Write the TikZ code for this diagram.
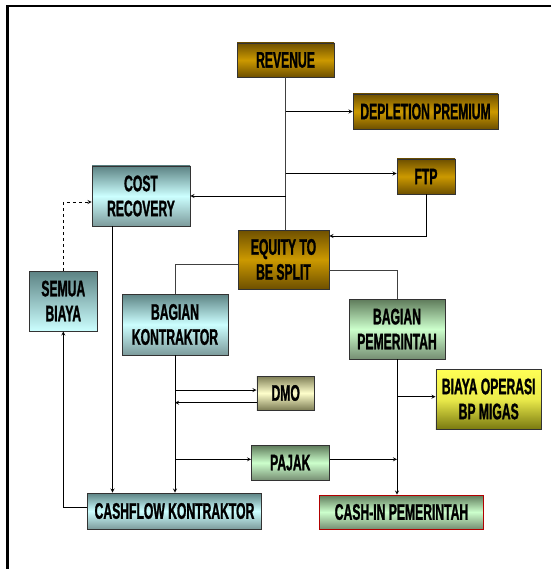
\documentclass[tikz,border=0pt]{standalone}
\usepackage{fontspec}
\usepackage{xcolor}
\usepackage{tikz}
\usetikzlibrary{arrows}
\newfontfamily\boxfont{Liberation Sans}[FakeStretch=0.54, BoldFeatures={FakeBold=1.2}]
\definecolor{golddark}{HTML}{6E5000}
\definecolor{goldmid}{HTML}{CC9900}
\definecolor{cyandark}{HTML}{5C8283}
\definecolor{cyanlight}{HTML}{CCFFFF}
\definecolor{greendark}{HTML}{5E7A5A}
\definecolor{greenlight}{HTML}{CCFFCC}
\definecolor{khakidark}{HTML}{7D7D55}
\definecolor{khakilight}{HTML}{FFFFCC}
\definecolor{yellowtop}{HTML}{FFFF55}
\definecolor{yellowbot}{HTML}{7A7A10}
\tikzstyle{box} = [rectangle, draw=black!80, line width=0.9pt, inner sep=0pt, align=center, text=black, font=\boxfont\bfseries\fontsize{22.5}{25}\selectfont]
\tikzstyle{gold} = [box, top color=golddark, bottom color=golddark, middle color=goldmid]
\tikzstyle{cyan} = [box, top color=cyandark, bottom color=cyandark!80, middle color=cyanlight]
\tikzstyle{green} = [box, top color=greendark, bottom color=greendark!85, middle color=greenlight]
\tikzstyle{khaki} = [box, top color=khakidark, bottom color=khakidark, middle color=khakilight]
\tikzstyle{arrow} = [thick,->,>=stealth]
\tikzstyle{line} = [thick, draw=black!75]

\begin{document}
\begin{tikzpicture}[x=1pt, y=-1pt]
    \useasboundingbox (0,0) rectangle (551,569);
    \draw[line width=2.5pt, line join=miter] (551,6.25) -- (7.25,6.25) -- (7.25,569);
    % boxes
    \node(revenue)[gold, minimum width=97pt, minimum height=34pt] at (285.5,60) {REVENUE};
    \node(depletion)[gold, minimum width=145pt, minimum height=35pt] at (425.5,111.5) {DEPLETION PREMIUM};
    \node(ftp)[gold, minimum width=58pt, minimum height=35pt] at (426,176.5) {FTP};
    \node(costrec)[cyan, minimum width=98pt, minimum height=60pt] at (141,196) {COST\\RECOVERY};
    \node(equity)[gold, minimum width=91pt, minimum height=59pt] at (283.5,259.5) {EQUITY TO\\BE SPLIT};
    \node(semua)[box, top color=cyandark, bottom color=cyanlight, minimum width=67.5pt, minimum height=60pt] at (63.3,301) {SEMUA\\BIAYA};
    \node(bagk)[cyan, minimum width=106pt, minimum height=61pt] at (175,324.5) {BAGIAN\\KONTRAKTOR};
    \node(bagp)[green, minimum width=96pt, minimum height=60pt] at (397,329) {BAGIAN\\PEMERINTAH};
    \node(dmo)[khaki, minimum width=57.5pt, minimum height=34pt] at (285.7,393) {DMO};
    \node(biaya)[box, top color=yellowtop, bottom color=yellowbot, middle color=yellowtop!85!yellowbot, minimum width=105.5pt, minimum height=60pt] at (488.7,399) {BIAYA OPERASI\\BP MIGAS};
    \node(pajak)[green, minimum width=77.5pt, minimum height=35pt] at (290.3,462.7) {PAJAK};
    \node(cashk)[cyan, minimum width=174pt, minimum height=36pt] at (174.5,511) {CASHFLOW KONTRAKTOR};
    \node(cashp)[green, draw=red!70!black, minimum width=164pt, minimum height=34pt] at (401.5,512) {CASH-IN PEMERINTAH};
    % connectors
    \coordinate(ftpin) at ([yshift=3pt]ftp.west);
    \coordinate(eqin) at ([yshift=23.5pt]equity.east);
    \coordinate(eqleft) at ([yshift=-4.5pt]equity.west);
    \coordinate(eqright) at ([yshift=-11pt]equity.east);
    \coordinate(crin) at ([yshift=-6pt]costrec.west);
    \coordinate(crout) at ([xshift=-28.5pt]costrec.south);
    \coordinate(dmoin) at ([yshift=3pt]dmo.west);
    \coordinate(dmoout) at ([yshift=-9.7pt]dmo.west);
    \coordinate(biayain) at ([yshift=2.3pt]biaya.west);
    \coordinate(pajakin) at ([yshift=3.4pt]pajak.west);
    \coordinate(pajakout) at ([yshift=3.4pt]pajak.east);
    \coordinate(ckout) at ([yshift=4pt]cashk.west);
    \draw[line](revenue.south) -- (revenue.south |- equity.north);
    \draw[arrow](revenue.south |- depletion.west) -- (depletion.west);
    \draw[arrow](revenue.south |- ftpin) -- (ftpin);
    \draw[arrow](revenue.south |- costrec.east) -- (costrec.east);
    \draw[arrow](ftp.south) |- (eqin);
    \draw[line](eqleft) -| (bagk.north);
    \draw[line](eqright) -| (bagp.north);
    \draw[arrow, dashed](semua.north) |- (crin);
    \draw[arrow](crout) -- (crout |- cashk.north);
    \draw[arrow](bagk.south) -- (bagk.south |- cashk.north);
    \draw[arrow](bagk.south |- dmoin) -- (dmoin);
    \draw[arrow](dmoout) -- (bagk.south |- dmoout);
    \draw[arrow](bagp.south |- biayain) -- (biayain);
    \draw[arrow](bagk.south |- pajakin) -- (pajakin);
    \draw[arrow](pajakout) -- (bagp.south |- pajakout);
    \draw[arrow](bagp.south) -- (bagp.south |- cashp.north);
    \draw[arrow](ckout) -| (semua.south);
  \end{tikzpicture}
\end{document}
